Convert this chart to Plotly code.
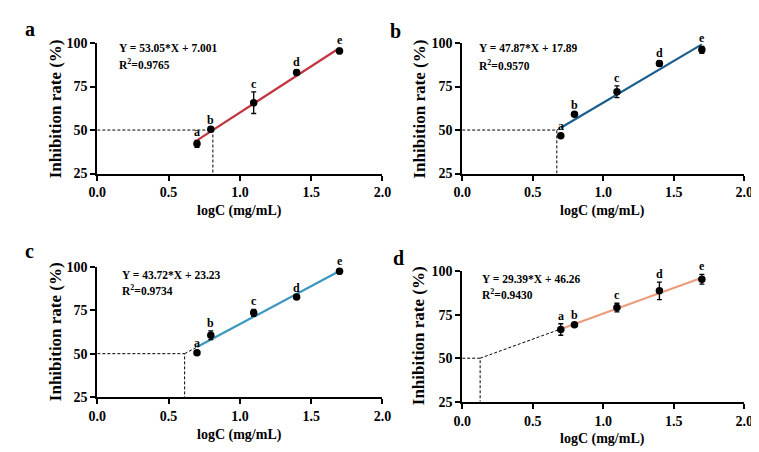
import plotly.graph_objects as go

# ---- data ----
panel_labels = ["a", "b", "c", "d"]
log_c = [0.699, 0.796, 1.097, 1.398, 1.699]
point_letters = ["a", "b", "c", "d", "e"]

rate_a = [42.1, 50.4, 65.7, 83.1, 95.4]
err_a = [2.0, 1.0, 6.2, 1.5, 1.5]
rate_b = [46.7, 59.1, 72.0, 88.3, 96.1]
err_b = [0.8, 0.8, 3.4, 1.5, 2.0]
rate_c = [50.6, 60.6, 73.5, 82.6, 97.4]
err_c = [1.0, 2.5, 2.0, 0.8, 1.5]
rate_d = [66.5, 69.3, 79.1, 88.7, 95.4]
err_d = [3.3, 1.0, 2.5, 5.0, 2.8]

slopes = [53.05, 47.87, 43.72, 29.39]
intercepts = [7.001, 17.89, 23.23, 46.26]
eq_texts = ["Y = 53.05*X + 7.001", "Y = 47.87*X + 17.89", "Y = 43.72*X + 23.23", "Y = 29.39*X + 46.26"]
r2_texts = ["0.9765", "0.9570", "0.9734", "0.9430"]
line_colors = ["#c1353f", "#1b5e8c", "#3b97c0", "#ec9b7c"]

x_ticks = [0.0, 0.5, 1.0, 1.5, 2.0]
y_ticks = [25, 50, 75, 100]

rates = [rate_a, rate_b, rate_c, rate_d]
errs = [err_a, err_b, err_c, err_d]

W, H = 759, 452
FONT = "Liberation Serif"

# axis boxes in pixels: (left, right, top, bottom)
boxes = [(82.3, 374.3, 29, 164), (456, 745, 29, 164),
         (82.3, 374.3, 260.3, 395.3), (456, 745, 265, 400)]
letter_pos = [(13, 14), (388, 17), (13, 244), (391, 251)]
ytitle_pos = [(39, 97.5), (412, 97.5), (39, 328), (412, 332)]
xtitle_pos = [(228, 203), (600, 203), (228, 434), (600, 439)]
eq_pos = [(102, 34, 51), (471, 34, 51.5), (106, 268.5, 284), (474, 273, 289)]

fig = go.Figure()
layout = {}
annotations = []

def px(x):
    return x / W

def py(y):
    return 1 - y / H

for i in range(4):
    l, r, t, b = boxes[i]
    xa = "xaxis" if i == 0 else f"xaxis{i+1}"
    ya = "yaxis" if i == 0 else f"yaxis{i+1}"
    xr = "x" if i == 0 else f"x{i+1}"
    yr = "y" if i == 0 else f"y{i+1}"
    axis_common = dict(showgrid=False, zeroline=False, showline=True, linecolor="black",
                       linewidth=2, ticks="outside", ticklen=5, tickwidth=2, tickcolor="black",
                       tickfont=dict(family=FONT, size=14, color="black", weight="bold"))
    layout[xa] = dict(domain=[px(l), px(r)], range=[0, 2], anchor=yr, tickvals=x_ticks,
                      ticktext=[f"{v:.1f}" for v in x_ticks], **axis_common)
    layout[ya] = dict(domain=[py(b), py(t)], range=[25, 100], anchor=xr, tickvals=y_ticks, **axis_common)

    m, c0 = slopes[i], intercepts[i]
    ic50 = (50 - c0) / m
    # dashed guide lines
    dash = dict(color="black", width=1, dash="3px,2px")
    fig.add_trace(go.Scatter(x=[0, ic50, ic50], y=[50, 50, 25], mode="lines", line=dash,
                             xaxis=xr, yaxis=yr, showlegend=False, hoverinfo="skip", cliponaxis=False))
    if ic50 < log_c[0]:
        fig.add_trace(go.Scatter(x=[ic50, log_c[0]], y=[50, m * log_c[0] + c0], mode="lines",
                                 line=dash, xaxis=xr, yaxis=yr, showlegend=False, hoverinfo="skip"))
    # fit line
    fx = [log_c[0], log_c[-1]]
    fig.add_trace(go.Scatter(x=fx, y=[m * v + c0 for v in fx], mode="lines",
                             line=dict(color=line_colors[i], width=2.2), xaxis=xr, yaxis=yr,
                             showlegend=False, hoverinfo="skip", cliponaxis=False))
    # points
    fig.add_trace(go.Scatter(x=log_c, y=rates[i], mode="markers",
                             marker=dict(color="black", size=7.5),
                             error_y=dict(type="data", array=errs[i], color="black", thickness=1.3, width=2.5),
                             xaxis=xr, yaxis=yr, showlegend=False, cliponaxis=False))
    # letters above points
    for xv, yv, ev, lt in zip(log_c, rates[i], errs[i], point_letters):
        annotations.append(dict(x=xv, y=yv + ev, xref=xr, yref=yr, text=lt, showarrow=False,
                                yanchor="bottom", yshift=-1,
                                font=dict(family=FONT, size=12, color="black", weight="bold")))
    # equation
    ex, ey1, ey2 = eq_pos[i]
    annotations.append(dict(x=px(ex), y=py(ey1), xref="paper", yref="paper", text=eq_texts[i],
                            showarrow=False, xanchor="left", yanchor="middle",
                            font=dict(family=FONT, size=11.5, color="black", weight="bold")))
    annotations.append(dict(x=px(ex), y=py(ey2), xref="paper", yref="paper",
                            text="R<sup>2</sup>=" + r2_texts[i],
                            showarrow=False, xanchor="left", yanchor="middle",
                            font=dict(family=FONT, size=11.5, color="black", weight="bold")))
    # titles
    tx, ty = ytitle_pos[i]
    annotations.append(dict(x=px(tx), y=py(ty), xref="paper", yref="paper", text="Inhibition rate (%)",
                            textangle=-90, showarrow=False, xanchor="center", yanchor="middle",
                            font=dict(family=FONT, size=17, color="black", weight="bold")))
    tx, ty = xtitle_pos[i]
    annotations.append(dict(x=px(tx), y=py(ty), xref="paper", yref="paper", text="logC (mg/mL)",
                            showarrow=False, xanchor="center", yanchor="middle",
                            font=dict(family=FONT, size=14, color="black", weight="bold")))
    lx, ly = letter_pos[i]
    annotations.append(dict(x=px(lx), y=py(ly), xref="paper", yref="paper", text=panel_labels[i],
                            showarrow=False, xanchor="center", yanchor="middle",
                            font=dict(family=FONT, size=20, color="black", weight="bold")))

fig.update_layout(width=W, height=H, margin=dict(l=0, r=0, t=0, b=0),
                  plot_bgcolor="white", paper_bgcolor="white",
                  annotations=annotations, **layout)
fig.write_html("out.html")
